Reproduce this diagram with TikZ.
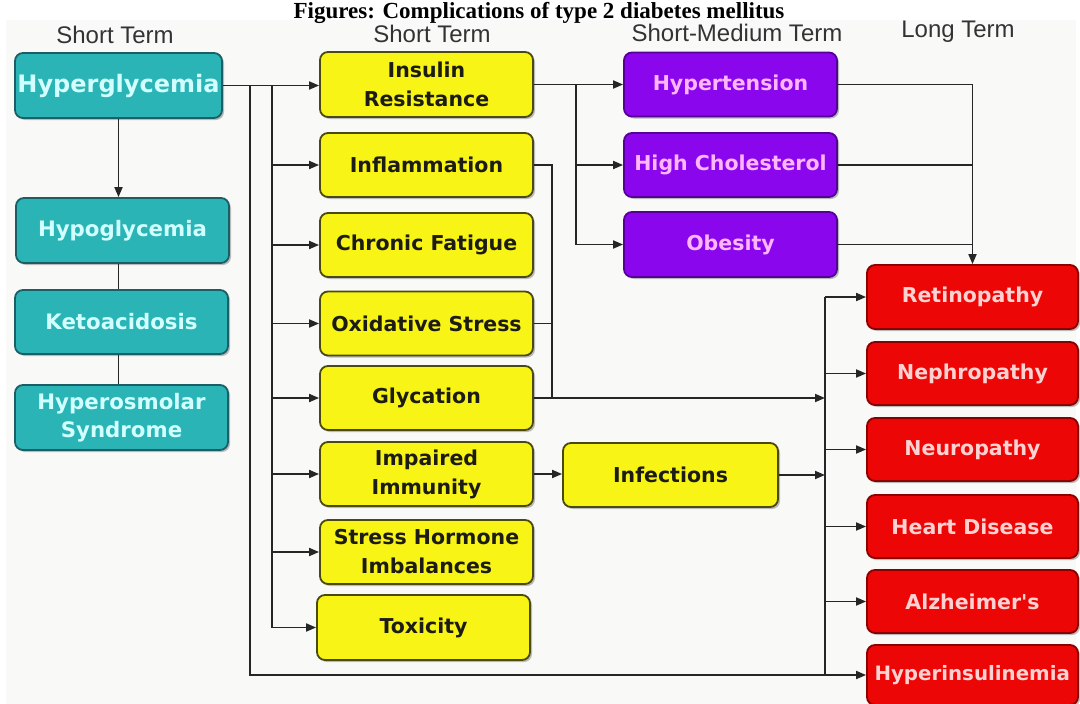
\documentclass[tikz,border=0pt]{standalone}
\usepackage{fontspec}
\setmainfont{Liberation Sans}
\newfontfamily\boxfont{DejaVu Sans}
\newfontfamily\titlefont{Liberation Serif}
\usetikzlibrary{arrows.meta,shadows}
\definecolor{cyanfill}{HTML}{2AB4B6}
\definecolor{cyanline}{HTML}{1C5E66}
\definecolor{cyantext}{HTML}{D2FFFF}
\definecolor{yelfill}{HTML}{F8F416}
\definecolor{yelline}{HTML}{4A4A10}
\definecolor{yeltext}{HTML}{1C1C14}
\definecolor{purfill}{HTML}{8A06EC}
\definecolor{purline}{HTML}{560098}
\definecolor{purtext}{HTML}{FFB6FF}
\definecolor{redfill}{HTML}{EC0606}
\definecolor{redline}{HTML}{8A0000}
\definecolor{redtext}{HTML}{FFD2D2}
\definecolor{bggray}{HTML}{F9F9F8}
\definecolor{headtext}{HTML}{333333}
\tikzset{
  box/.style={rounded corners=8pt, line width=1.8pt, align=center, inner sep=2pt,
    drop shadow={shadow xshift=2pt, shadow yshift=-2pt, opacity=0.25, fill=black}},
  cbox/.style={box, fill=cyanfill, draw=cyanline, text=cyantext,
    minimum width=213pt, minimum height=64pt,
    font=\boxfont\bfseries\fontsize{21.3}{28}\selectfont},
  ybox/.style={box, fill=yelfill, draw=yelline, text=yeltext,
    minimum width=213pt, minimum height=64pt,
    font=\boxfont\bfseries\fontsize{20.5}{29}\selectfont},
  pbox/.style={box, fill=purfill, draw=purline, text=purtext,
    minimum width=213pt, minimum height=64pt,
    font=\boxfont\bfseries\fontsize{20.5}{26}\selectfont},
  rbox/.style={box, fill=redfill, draw=redline, text=redtext,
    minimum width=211pt, minimum height=63pt,
    font=\boxfont\bfseries\fontsize{20.5}{26}\selectfont},
  head/.style={font=\fontsize{24}{26}\selectfont, text=headtext, inner sep=0pt},
  ln/.style={line width=1.8pt, draw=black!85},
  arr/.style={-{Triangle[length=10pt,width=8pt]}}
}
\begin{document}
\begin{tikzpicture}[x=1pt,y=-1pt]
\useasboundingbox (0,0) rectangle (1080,704);
\clip (0,0) rectangle (1080,704);
\fill[white] (0,0) rectangle (1080,704);
\fill[bggray] (6,20) rectangle (1076,704);

% title
\node[anchor=base, inner sep=0pt, font=\titlefont\bfseries\fontsize{23}{28}\selectfont] (title) at (539,18.5) {Figures: Complications of type 2 diabetes mellitus};

% headers
\node[head] (h1) at (115,35) {Short Term};
\node[head] (h2) at (432,34) {Short Term};
\node[head] (h3) at (737,32.5) {Short-Medium Term};
\node[head] (h4) at (958,32) {Long Term};

% cyan column
\node[cbox, minimum width=207pt, minimum height=65pt, font=\boxfont\bfseries\fontsize{24}{28}\selectfont] (hyper) at (118.5,85.5) {Hyperglycemia};
\node[cbox, minimum height=65pt] (hypo) at (122.5,230.5) {Hypoglycemia};
\node[cbox] (keto) at (121.5,322) {Ketoacidosis};
\node[cbox, minimum height=65pt] (hosm) at (121.5,417.5) {Hyperosmolar\\Syndrome};

% yellow column
\node[ybox, minimum height=65pt] (ins) at (426.5,84.5) {Insulin\\Resistance};
\node[ybox] (infl) at (426.5,165) {Inflammation};
\node[ybox] (chr) at (426.5,245) {Chronic Fatigue};
\node[ybox] (oxi) at (426.5,323.5) {Oxidative Stress};
\node[ybox] (gly) at (426.5,398) {Glycation};
\node[ybox] (imm) at (426.5,474) {Impaired\\Immunity};
\node[ybox] (shi) at (426.5,552) {Stress Hormone\\Imbalances};
\node[ybox, minimum height=65pt] (tox) at (423.5,627.5) {Toxicity};
\node[ybox, minimum width=215pt] (inf) at (670.5,475) {Infections};

% purple column
\node[pbox] (hyp) at (730.5,84.5) {Hypertension};
\node[pbox] (chol) at (730.5,165) {High Cholesterol};
\node[pbox, minimum height=65pt] (obe) at (730.5,244.5) {Obesity};

% red column
\node[rbox, minimum height=64pt] (ret) at (972.5,297) {Retinopathy};
\node[rbox] (nep) at (972.5,373.5) {Nephropathy};
\node[rbox] (neu) at (972.5,449.5) {Neuropathy};
\node[rbox] (hd) at (972.5,526.5) {Heart Disease};
\node[rbox] (alz) at (972.5,601.5) {Alzheimer's};
\node[rbox, minimum height=60pt, font=\boxfont\bfseries\fontsize{19.8}{26}\selectfont] (hins) at (972.5,675) {\makebox[196pt][l]{Hyperinsulinemia}};

% cyan connectors
\draw[ln,arr] (hyper.south) -- (hyper.south |- hypo.north);
\draw[ln] (hypo.south -| hyper.south) -- (keto.north -| hyper.south);
\draw[ln] (keto.south -| hyper.south) -- (hosm.north -| hyper.south);

% from Hyperglycemia
\coordinate (jo) at (250,85.5);
\coordinate (ji) at (272,85.5);
\draw[ln,arr] (hyper.east) -- (hyper.east -| ins.west);
\draw[ln,arr] (jo) |- (hins.west);
\draw[ln,arr] (ji) |- (tox.west);
\foreach \n in {infl,chr,oxi,gly,imm,shi}
  \draw[ln,arr] (ji |- \n.west) -- (\n.west);

% insulin resistance to purple
\coordinate (jp) at (576,84.5);
\draw[ln,arr] (ins.east) -- (hyp.west);
\draw[ln,arr] (jp) |- (obe.west);
\draw[ln,arr] (jp |- chol.west) -- (chol.west);

% purple to retinopathy
\draw[ln,arr] (hyp.east) -| (ret.north);
\draw[ln] (chol.east) -- (chol.east -| ret.north);
\draw[ln] (obe.east) -- (obe.east -| ret.north);

% inflammation / oxidative stress / glycation
\coordinate (jy) at (552,0);
\coordinate (tr) at (825,0);
\draw[ln] (infl.east) -| (jy |- gly.east);
\draw[ln] (oxi.east) -- (oxi.east -| jy);
\draw[ln,arr] (gly.east) -- (gly.east -| tr);

% trunk to red boxes
\draw[ln] (tr |- ret.west) -- (tr |- hins.west);
\foreach \n in {ret,nep,neu,hd,alz}
  \draw[ln,arr] (tr |- \n.west) -- (\n.west);

% immunity -> infections -> trunk
\draw[ln,arr] (imm.east) -- (imm.east -| inf.west);
\draw[ln,arr] (inf.east) -- (inf.east -| tr);
\end{tikzpicture}
\end{document}
